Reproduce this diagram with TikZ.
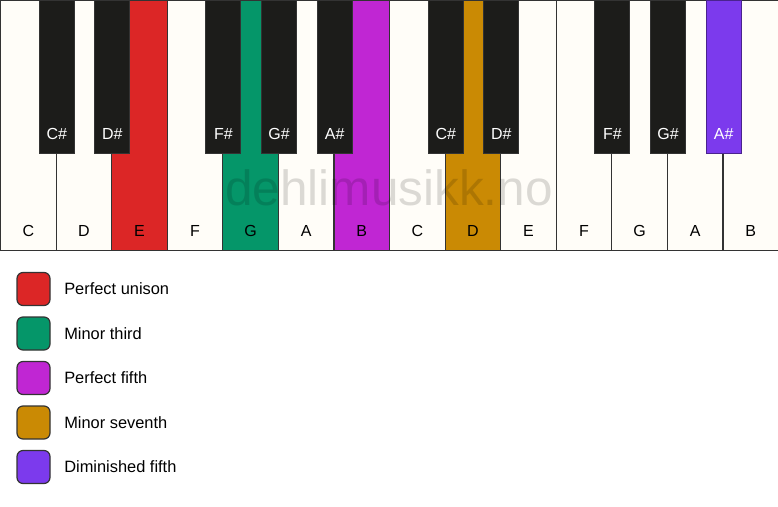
\documentclass[tikz,border=0pt]{standalone}
\usepackage{fontspec}
\setmainfont{Liberation Sans}
\usetikzlibrary{positioning}

\definecolor{keywhite}{HTML}{FFFDF8}
\definecolor{keyblack}{HTML}{1C1C1A}
\definecolor{keyline}{HTML}{333333}
\definecolor{unison}{HTML}{DC2626}
\definecolor{minthird}{HTML}{059669}
\definecolor{perffifth}{HTML}{C026D3}
\definecolor{minseventh}{HTML}{CA8A04}
\definecolor{dimfifth}{HTML}{7C3AED}

\tikzset{
    whitekey/.style={draw=keyline, line width=1.2pt, fill=keywhite, minimum width=55.57pt, minimum height=250pt, inner sep=0pt, anchor=north west},
    blackkey/.style={draw=keyline, line width=1pt, fill=keyblack, minimum width=35pt, minimum height=153pt, inner sep=0pt, anchor=north},
    keylabel/.style={font=\fontsize{16}{19}\selectfont, inner sep=0pt},
    legendbox/.style={draw=keyline, line width=1.2pt, rounded corners=6pt, minimum size=33pt, inner sep=0pt},
    legendtext/.style={font=\fontsize{16.4}{19}\selectfont, inner sep=0pt, anchor=west},
    watermark/.style={font=\fontsize{49.5}{56}\selectfont, text=black, text opacity=0.14, inner sep=0pt}
}

\begin{document}
\begin{tikzpicture}[x=1pt, y=-1pt, node distance=10.3pt]
    \useasboundingbox (0,0) rectangle (778,506);

    % White keys (two octaves)
    \foreach \i/\name/\col in {1/C/keywhite, 2/D/keywhite, 3/E/unison, 4/F/keywhite, 5/G/minthird, 6/A/keywhite, 7/B/perffifth, 8/C/keywhite, 9/D/minseventh, 10/E/keywhite, 11/F/keywhite, 12/G/keywhite, 13/A/keywhite, 14/B/keywhite}
        \node[whitekey, fill=\col] (w\i) at ({(\i-1)*55.57}, 0) {};
    \foreach \i/\name in {1/C, 2/D, 3/E, 4/F, 5/G, 6/A, 7/B, 8/C, 9/D, 10/E, 11/F, 12/G, 13/A, 14/B}
        \node[keylabel] (wl\i) at ([yshift=20pt]w\i.south) {\name};

    % Black keys, centred on the key borders
    \foreach \i/\name/\col/\edge in {1/C\#/keyblack/keyline, 2/D\#/keyblack/keyline, 4/F\#/keyblack/keyline, 5/G\#/keyblack/keyline, 6/A\#/keyblack/keyline, 8/C\#/keyblack/keyline, 9/D\#/keyblack/keyline, 11/F\#/keyblack/keyline, 12/G\#/keyblack/keyline, 13/A\#/dimfifth/dimfifth!60!black}
    {
        \node[blackkey, fill=\col, draw=\edge] (b\i) at (w\i.north east) {};
        \node[keylabel, text=white] (bl\i) at ([yshift=20pt]b\i.south) {\name};
    }

    % Watermark
    \node[watermark] (mark) at (389,188) {dehlimusikk.no};

    % Legend
    \node[legendbox, fill=unison] (leg1) at (33.5,289) {};
    \node[legendbox, fill=minthird, below=of leg1] (leg2) {};
    \node[legendbox, fill=perffifth, below=of leg2] (leg3) {};
    \node[legendbox, fill=minseventh, below=of leg3] (leg4) {};
    \node[legendbox, fill=dimfifth, below=of leg4] (leg5) {};
    \foreach \i/\txt in {1/Perfect unison, 2/Minor third, 3/Perfect fifth, 4/Minor seventh, 5/Diminished fifth}
        \node[legendtext, right=13.5pt of leg\i] (lt\i) {\txt};
\end{tikzpicture}
\end{document}
